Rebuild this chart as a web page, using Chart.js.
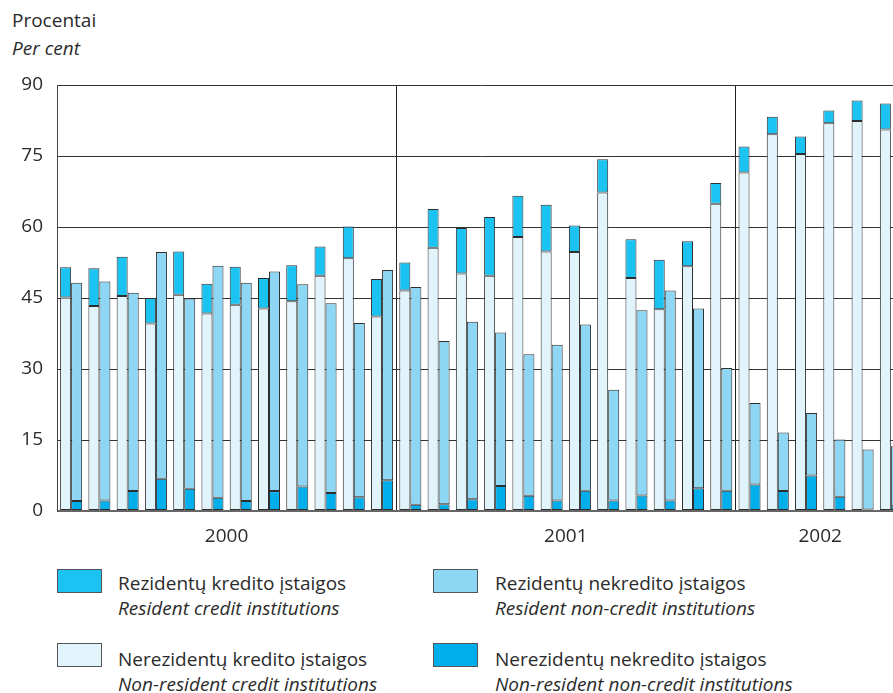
<!DOCTYPE html>
<html>
<head>
<meta charset="utf-8">
<script src="https://cdn.jsdelivr.net/npm/chart.js@4"></script>
<style>
    html, body { margin: 0; padding: 0; background: #fff; overflow: hidden; }
    body { width: 893px; height: 693px; position: relative; font-family: "Open Sans", sans-serif; color: #2b2b2b; }
    #chartBox { position: absolute; left: 0; top: 0; width: 919px; height: 560px; }
    .t { position: absolute; font-size: 19px; line-height: 22px; white-space: nowrap; }
    .i { font-style: italic; }
    .sw { position: absolute; width: 43px; height: 22px; border: 1px solid #555; }
</style>
</head>
<body>
<div class="t" style="left:12px; top:9px;">Procentai</div>
<div class="t i" style="left:12px; top:37px;">Per cent</div>

<div id="chartBox"><canvas id="chart" width="919" height="560"></canvas></div>

<div class="sw" style="left:57px; top:569px; background:#1ac3f2;"></div>
<div class="t" style="left:118px; top:572px;">Rezidentų kredito įstaigos</div>
<div class="t i" style="left:118px; top:597px;">Resident credit institutions</div>

<div class="sw" style="left:57px; top:643px; background:#e1f4fb;"></div>
<div class="t" style="left:118px; top:648px;">Nerezidentų kredito įstaigos</div>
<div class="t i" style="left:118px; top:673px;">Non-resident credit institutions</div>

<div class="sw" style="left:433px; top:569px; background:#8dd7f4;"></div>
<div class="t" style="left:495px; top:572px;">Rezidentų nekredito įstaigos</div>
<div class="t i" style="left:495px; top:597px;">Resident non-credit institutions</div>

<div class="sw" style="left:433px; top:643px; background:#00aeeb;"></div>
<div class="t" style="left:495px; top:648px;">Nerezidentų nekredito įstaigos</div>
<div class="t i" style="left:495px; top:673px;">Non-resident non-credit institutions</div>

<script>
// months Jan 2000 .. Jun 2002
const months = [
    '2000-01', '2000-02', '2000-03', '2000-04', '2000-05', '2000-06',
    '2000-07', '2000-08', '2000-09', '2000-10', '2000-11', '2000-12',
    '2001-01', '2001-02', '2001-03', '2001-04', '2001-05', '2001-06',
    '2001-07', '2001-08', '2001-09', '2001-10', '2001-11', '2001-12',
    '2002-01', '2002-02', '2002-03', '2002-04', '2002-05', '2002-06'
];

// shares, per cent
const nonResidentCredit = [
    45.1, 43.3, 45.4, 39.6, 45.7, 41.7, 43.6, 42.8, 44.3, 49.7, 53.4, 41.1,
    46.6, 55.6, 50.2, 49.7, 57.9, 54.8, 54.7, 67.3, 49.2, 42.6, 51.7, 64.9,
    71.5, 79.6, 75.4, 81.9, 82.4, 80.6
];
const residentCredit = [
    6.4, 8.0, 8.3, 5.4, 9.1, 6.3, 8.0, 6.4, 7.6, 6.2, 6.7, 7.9,
    5.9, 8.2, 9.6, 12.4, 8.7, 9.9, 5.6, 7.0, 8.2, 10.5, 5.3, 4.4,
    5.5, 3.7, 3.7, 2.7, 4.3, 5.5
];
const nonResidentNonCredit = [
    2.1, 2.2, 4.2, 6.8, 4.7, 2.8, 2.1, 4.2, 5.2, 3.8, 2.9, 6.5,
    1.3, 1.4, 2.5, 5.3, 3.2, 2.2, 4.3, 2.2, 3.3, 2.2, 4.8, 4.3,
    5.6, 4.2, 7.5, 3.0, 0.3, 1.0
];
const residentNonCredit = [
    46.1, 46.3, 41.9, 47.9, 40.2, 49.0, 46.1, 46.4, 42.7, 40.1, 36.8, 44.4,
    46.0, 34.5, 37.5, 32.4, 29.9, 32.9, 35.1, 23.4, 39.1, 44.4, 38.0, 25.9,
    17.2, 12.4, 13.2, 12.1, 12.7, 12.7
];

const yearLabels = {6: '2000', 18: '2001', 27: '2002'};
const yearBreaks = [12, 24];

const bar = (label, data, color, stack) => ({
    label, data, stack,
    backgroundColor: color,
    borderColor: '#2e2e2e',
    borderWidth: 1,
    borderSkipped: false,
    categoryPercentage: 0.78,
    barPercentage: 1.0
});

Chart.defaults.font.family = '"Open Sans", sans-serif';
Chart.defaults.font.size = 19;
Chart.defaults.color = '#2b2b2b';

new Chart(document.getElementById('chart').getContext('2d'), {
    type: 'bar',
    data: {
        labels: months,
        datasets: [
            bar('Nerezidentų kredito įstaigos', nonResidentCredit, '#e1f4fb', 'credit'),
            bar('Rezidentų kredito įstaigos', residentCredit, '#1ac3f2', 'credit'),
            bar('Nerezidentų nekredito įstaigos', nonResidentNonCredit, '#00aeeb', 'noncredit'),
            bar('Rezidentų nekredito įstaigos', residentNonCredit, '#8dd7f4', 'noncredit')
        ]
    },
    options: {
        responsive: false,
        animation: false,
        layout: {padding: {top: 85, right: 0, left: 0, bottom: 0}},
        plugins: {legend: {display: false}, tooltip: {enabled: false}},
        scales: {
            x: {stacked: true, display: false},
            years: {
                type: 'linear', position: 'bottom', min: 0, max: 30,
                offset: false,
                afterBuildTicks: axis => {
                    axis.ticks = [0, 6, 12, 18, 24, 27, 30].map(v => ({value: v}));
                },
                afterFit: scale => { scale.height = 49; },
                ticks: {
                    autoSkip: false, maxRotation: 0, padding: 14,
                    callback: v => yearLabels[v] || ''
                },
                grid: {
                    offset: false,
                    drawTicks: false,
                    color: c => (c.tick && yearBreaks.includes(c.tick.value)) ? '#222' : 'rgba(0,0,0,0)',
                    lineWidth: 1
                },
                border: {display: false}
            },
            y: {
                stacked: true, min: 0, max: 90,
                afterFit: scale => { scale.width = 57; },
                ticks: {stepSize: 15, padding: 14},
                grid: {
                    drawTicks: false,
                    color: c => c.tick && c.tick.value === 0 ? '#666' : '#333',
                    lineWidth: c => c.tick && c.tick.value === 0 ? 2 : 1
                },
                border: {display: true, color: '#444', width: 1}
            }
        }
    }
});
</script>
</body>
</html>
